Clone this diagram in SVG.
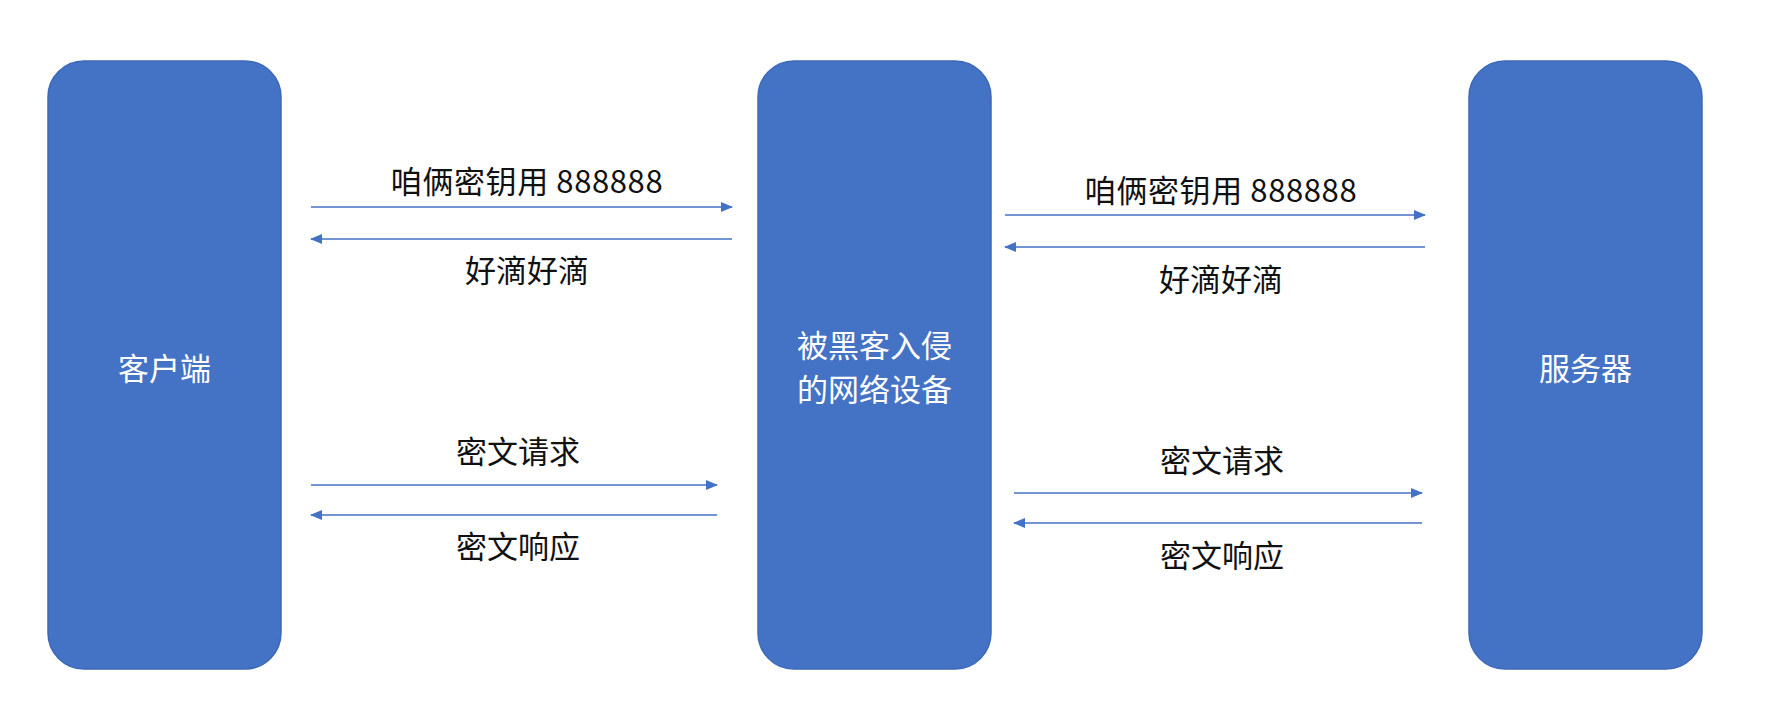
<svg xmlns="http://www.w3.org/2000/svg" width="1769" height="718" viewBox="0 0 1769 718">
<style>
.box{fill:#4472C4;stroke:#3C68B8;stroke-width:1.5}
.nt{fill:#ffffff;font-family:"Noto Sans CJK SC","Liberation Sans",sans-serif;font-size:31px;text-anchor:middle}
.lt{fill:#111111;font-family:"Noto Sans CJK SC","Liberation Sans",sans-serif;font-size:31px;text-anchor:middle}
.ln{stroke:#4472C4;stroke-width:1.6;fill:none;marker-end:url(#ah)}
</style>
<defs>
<marker id="ah" markerWidth="12" markerHeight="10" refX="11" refY="5" orient="auto" markerUnits="userSpaceOnUse">
<path d="M0,0 L12,5 L0,10 Z" fill="#4472C4"/>
</marker>
</defs>
<rect width="1769" height="718" fill="#ffffff"/>
<g id="client">
<rect class="box" x="48" y="61" width="233" height="608" rx="36" ry="36"/>
<text class="nt" x="164.5" y="380">客户端</text>
</g>
<g id="hacked">
<rect class="box" x="758" y="61" width="233" height="608" rx="36" ry="36"/>
<text class="nt" x="874.5" y="357" font-size="30">被黑客入侵</text>
<text class="nt" x="874.5" y="401" font-size="30">的网络设备</text>
</g>
<g id="server">
<rect class="box" x="1469" y="61" width="233" height="608" rx="36" ry="36"/>
<text class="nt" x="1585.5" y="380">服务器</text>
</g>
<g id="connectors">
<line class="ln" x1="311" y1="207" x2="732" y2="207"/>
<line class="ln" x1="732" y1="239" x2="311" y2="239"/>
<line class="ln" x1="1005" y1="215" x2="1425" y2="215"/>
<line class="ln" x1="1425" y1="247" x2="1005" y2="247"/>
<line class="ln" x1="311" y1="485" x2="717" y2="485"/>
<line class="ln" x1="717" y1="515" x2="311" y2="515"/>
<line class="ln" x1="1014" y1="493" x2="1422" y2="493"/>
<line class="ln" x1="1422" y1="523" x2="1014" y2="523"/>
</g>
<g id="labels">
<text class="lt" x="527" y="193" letter-spacing="0.6">咱俩密钥用 888888</text>
<text class="lt" x="527" y="282">好滴好滴</text>
<text class="lt" x="1221" y="202" letter-spacing="0.6">咱俩密钥用 888888</text>
<text class="lt" x="1221" y="291">好滴好滴</text>
<text class="lt" x="518" y="463">密文请求</text>
<text class="lt" x="518" y="558">密文响应</text>
<text class="lt" x="1222" y="472">密文请求</text>
<text class="lt" x="1222" y="567">密文响应</text>
</g>
</svg>
